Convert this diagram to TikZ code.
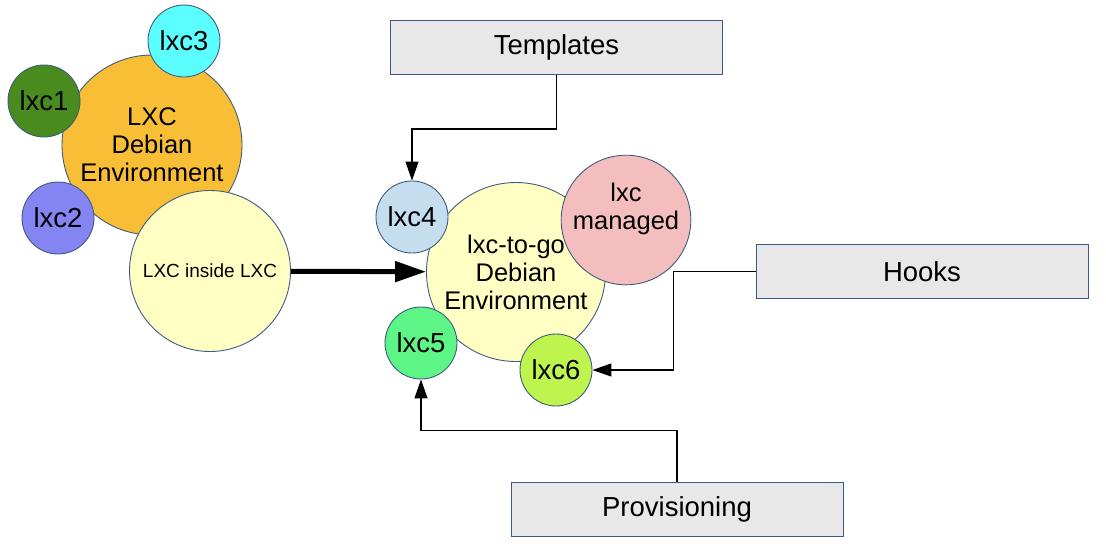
\documentclass[tikz,border=0pt]{standalone}
\usepackage{fontspec}
\setmainfont{Liberation Sans}
\usetikzlibrary{arrows.meta}

\definecolor{rim}{HTML}{3E5C82}
\definecolor{boxrim}{HTML}{3A5A8C}
\definecolor{boxgray}{HTML}{E8E8E8}
\definecolor{envorange}{HTML}{F8BF36}
\definecolor{paleyellow}{HTML}{FFFFC4}
\definecolor{lxcgreen}{HTML}{4A8B1F}
\definecolor{lxcpurple}{HTML}{8484F2}
\definecolor{lxccyan}{HTML}{5CFFFF}
\definecolor{lxcblue}{HTML}{C4DEF0}
\definecolor{lxcmint}{HTML}{5EF587}
\definecolor{lxclime}{HTML}{BDF54E}
\definecolor{lxcpink}{HTML}{F5BEBE}

\tikzset{
	bubble/.style={circle, draw=rim, line width=0.9pt, inner sep=0pt, align=center, font=\fontsize{25.5}{28}\selectfont},
	small/.style={bubble, minimum size=72pt, font=\fontsize{27.5}{30}\selectfont},
	toolbox/.style={draw=boxrim, fill=boxgray, line width=1pt, minimum width=332pt, minimum height=54pt, font=\fontsize{27.5}{30}\selectfont},
	feed/.style={line width=1.2pt, -{Triangle[length=19pt,width=13pt]}}
}

\begin{document}
\begin{tikzpicture}[x=1pt, y=-1pt]
	\useasboundingbox (0,0) rectangle (1106,550);

	% left side
	\node[bubble, fill=envorange, minimum size=180pt] (lxcenv) at (152,145) {LXC\\Debian\\Environment};
	\node[bubble, fill=paleyellow, minimum size=161pt, font=\fontsize{19}{22}\selectfont] (nested) at (210,271) {LXC inside LXC};

	% right side
	\node[bubble, fill=paleyellow, minimum size=179pt] (togo) at (516,272) {lxc-to-go\\Debian\\Environment};
	\node[bubble, fill=lxcpink, minimum size=113pt] (managed) at (626,220) {lxc\\managed\\\mbox{}};

	\foreach \n/\x/\y/\c in {1/44/101/lxcgreen, 2/58/218/lxcpurple, 3/184/41/lxccyan, 4/412/217/lxcblue, 5/421/343/lxcmint, 6/556/370/lxclime}
		\node[small, fill=\c] (lxc\n) at (\x,\y) {lxc\n};

	\node[toolbox] (templates) at (556.5,47.5) {Templates};
	\node[toolbox] (hooks) at (922,271.5) {Hooks};
	\node[toolbox] (provisioning) at (677,509) {Provisioning};

	\draw[line width=5pt, -{Triangle[length=31pt,width=20pt]}] (nested) -- (togo);

	\draw[feed] (templates.south) -- ++(0,54) -| (lxc4.north);
	\draw[feed] (hooks.west) -- ++(-82,0) |- (lxc6.east);
	\draw[feed] (provisioning.north) -- ++(0,-51) -| (lxc5.south);

\end{tikzpicture}
\end{document}
